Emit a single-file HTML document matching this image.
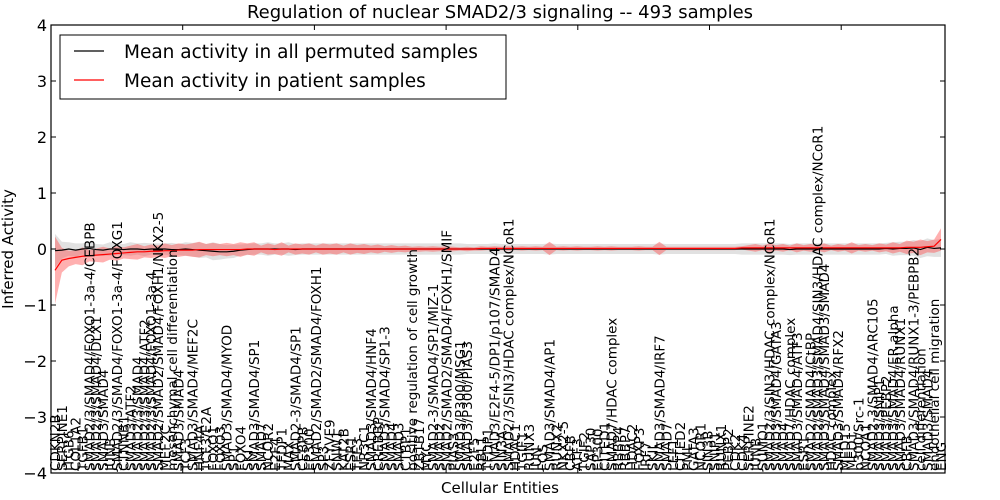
<!DOCTYPE html>
<html><head><meta charset="utf-8"><style>
body{margin:0;background:#fff;}
svg{display:block;font-family:"DejaVu Sans","Liberation Sans",sans-serif;}
</style></head><body>
<svg id="chart" width="1000" height="500" xmlns="http://www.w3.org/2000/svg">
<text x="500" y="18" font-size="18" text-anchor="middle">Regulation of nuclear SMAD2/3 signaling -- 493 samples</text>
<text x="500" y="493" font-size="15" text-anchor="middle">Cellular Entities</text>
<text transform="translate(13,249) rotate(-90)" font-size="15" text-anchor="middle">Inferred Activity</text>
<g id="plot"></g>
</svg>
<script>
const labels=[
"CDKN2B","SERPINE1","ITGB6","COL1A2","TGFB1","SMAD2/3/SMAD4/FOXO1-3a-4/CEBPB","SMAD2/3/SMAD4/DLX1","SMAD3/SMAD4","JUNB","SMAD2/3/SMAD4/FOXO1-3a-4/FOXG1",
"CTNNB1","SMAD3/ATF2","SMAD2/3/SMAD4","SMAD2/3/SMAD4/ATF2","SMAD2/3/SMAD4/FOXO1-3a-4","SMAD2/SMAD2/SMAD4/FOXH1/NKX2-5","MEF2C","mesenchymal cell differentiation","SMAD3/SMAD4","TCF3",
"SMAD3/SMAD4/MEF2C","HNF4A","TCF3/E2A","FOXO1","FOXO3","SMAD3/SMAD4/MYOD","SP1","FOXO4","SKI","SMAD3/SMAD4/SP1",
"SMAD7","NCOR2","E2F4","TFDP1","MAX","SMAD2-3/SMAD4/SP1","CEBPB","EP300","SMAD2/SMAD2/SMAD4/FOXH1","SP3",
"ZFYVE9","SNW1","KAT2B","ESR1","TFE3","NR3C1","SMAD3/SMAD4/HNF4","CREBBP","SMAD3/SMAD4/SP1-3","SMAD4",
"SMAD3","CTBP1","positive regulation of cell growth","ZBTB17","MYC","SMAD2-3/SMAD4/SP1/MIZ-1","SMAD2","SMAD2/SMAD2/SMAD4/FOXH1/SMIF","PIAS3","SMAD3/P300/MSG1",
"SMAD3/P300/PIAS3","E2F5","RBL1","TFDP1","SMAD3/E2F4-5/DP1/p107/SMAD4","SIN3A","SMAD2/3/SIN3/HDAC complex/NCoR1","HDAC1","TGIF1","RUNX3",
"JUN","FOS","SMAD3/SMAD4/AP1","RUNX2","NKX2-5","CBFB","ATF3","TGIF2","SAP30","EP300",
"CITED1","SMAD7/HDAC complex","RBBP4","RBBP7","HDAC2","FOXP3","IRF7","SKIL","SMAD3/SMAD4/IRF7","SMAD7",
"LEF1","CITED2","PML","GATA3","NCOR1","SIN3B","SNIP1","RUNX1","PEBP2","CDK2",
"CDK4","SERPINE2","JUNB","SUMO1","SMAD2/3/SIN3/HDAC complex/NCoR1","SMAD3/SMAD4/GATA3","SMAD4","SMAD7/HDAC complex","SMAD3/SMAD4/ATF3","ESR1",
"SMAD2/SMAD4/CtBP","SMAD2/SMAD3/SMAD4/SIN3/HDAC complex/NCoR1","SMAD3/SMAD4/SMAD3/SMAD4","HDAC complex","SMAD3/SMAD4/RFX2","MED15","MED1","p300/Src-1","NCOA1","SMAD2-3/SMAD4/ARC105",
"SMAD3/SNIP1","SMAD3/PEBP2","SMAD3/SMAD4/ER alpha","SMAD3/SMAD4/RUNX1","CBFB","SMAD3/SMAD4/RUNX1-3/PEBPB2","cell differentiation","SMAD3/SMAD4","endothelial cell migration","ENG"];
const redMean=[
-0.38,-0.2,-0.17,-0.15,-0.13,-0.12,-0.11,-0.1,-0.09,-0.08,
-0.07,-0.06,-0.05,-0.05,-0.04,-0.04,-0.03,-0.03,-0.02,-0.02,
-0.02,-0.01,-0.01,-0.01,-0.01,-0.01,-0.01,-0.01,0,0,
0,0,-0.01,0,0,0,0,0,0,0,
0,0,0,0,0,0,0,0,0,0,
0,0,0,0,0,0,0,0,0,0,
0,0,0.01,0.01,0.01,0.01,0.01,0.01,0.01,0.01,
0.01,0.01,0.01,0.01,0.01,0.01,0.01,0.01,0.01,0.01,
0.01,0.01,0.01,0.01,0.01,0.01,0.01,0.01,0.01,0.01,
0.01,0.01,0.01,0.01,0.01,0.01,0.01,0.01,0.01,0.01,
0.02,0.02,0.02,0.02,0.02,0.02,0.02,0.02,0.02,0.02,
0.02,0.02,0.02,0.02,0.02,0.02,0.02,0.02,0.02,0.02,
0.02,0.02,0.02,0.02,0.03,0.03,0.03,0.04,0.05,0.17];
const redBand=[
0.6,0.22,0.14,0.12,0.16,0.1,0.12,0.14,0.1,0.13,
0.1,0.12,0.14,0.1,0.12,0.1,0.13,0.1,0.12,0.1,
0.12,0.14,0.1,0.12,0.1,0.12,0.1,0.13,0.1,0.12,
0.06,0.1,0.08,0.12,0.06,0.1,0.08,0.1,0.06,0.1,
0.08,0.1,0.06,0.1,0.07,0.09,0.06,0.08,0.05,0.07,
0.05,0.06,0.04,0.05,0.04,0.05,0.04,0.05,0.04,0.03,
0.04,0.03,0.04,0.03,0.04,0.03,0.04,0.03,0.04,0.03,
0.04,0.03,0.12,0.03,0.04,0.03,0.04,0.03,0.03,0.04,
0.03,0.04,0.03,0.03,0.03,0.04,0.03,0.03,0.12,0.03,
0.03,0.03,0.03,0.03,0.03,0.03,0.03,0.03,0.03,0.03,
0.03,0.05,0.07,0.04,0.08,0.05,0.07,0.04,0.08,0.05,
0.07,0.05,0.08,0.04,0.07,0.05,0.1,0.05,0.07,0.05,
0.08,0.06,0.1,0.07,0.12,0.1,0.14,0.1,0.12,0.2];
const blackMean=[
-0.03,-0.02,0,-0.02,0,0.01,-0.01,-0.02,0,0,
-0.01,0,0,-0.01,0,0,0,-0.01,-0.01,0,
-0.01,-0.02,-0.03,-0.04,-0.05,-0.05,-0.04,-0.02,-0.01,0,
0,0,0,0,0,-0.01,0,0,0,0,
0,0,0,0,0,0,0,0,0,0,
0,0,0,0,0,0,0,0,0,0,
0,0,0,0,0,0,0,0,0,0,
0,0,0,0,0,0,0,0,0,0,
0,0,0,0,0,0,0,0,0,0,
0,0,0,0,0,0,0,0,0,0,
0,0,0,0,0,0,0,-0.01,0,0,
0,0,0,0,0,0,0,0,0,0,
0,0.01,0,0.01,0.01,0.02,-0.01,0.03,0.01,0.02];
const greyBand=[
0.3,0.15,0.12,0.12,0.1,0.12,0.1,0.1,0.12,0.1,
0.1,0.12,0.1,0.12,0.1,0.1,0.1,0.12,0.1,0.12,
0.12,0.14,0.12,0.16,0.14,0.12,0.12,0.1,0.1,0.1,
0.1,0.12,0.1,0.1,0.12,0.1,0.1,0.1,0.1,0.1,
0.1,0.1,0.1,0.1,0.1,0.1,0.1,0.1,0.1,0.1,
0.1,0.1,0.1,0.1,0.1,0.1,0.1,0.1,0.1,0.1,
0.09,0.09,0.09,0.09,0.1,0.09,0.09,0.09,0.09,0.09,
0.09,0.09,0.1,0.09,0.09,0.09,0.09,0.09,0.09,0.09,
0.09,0.09,0.09,0.09,0.09,0.09,0.09,0.09,0.1,0.09,
0.09,0.09,0.09,0.09,0.09,0.09,0.09,0.09,0.09,0.09,
0.1,0.1,0.1,0.1,0.1,0.1,0.1,0.1,0.1,0.1,
0.1,0.1,0.1,0.1,0.1,0.1,0.1,0.1,0.1,0.1,
0.1,0.1,0.12,0.12,0.12,0.14,0.15,0.16,0.15,0.16];
const yTicks=[-4,-3,-2,-1,0,1,2,3,4];
const NS="http://www.w3.org/2000/svg";
const L=51,R=945,T=25,B=473;
const n=labels.length;
function xs(i){return 55+i*(941-55)/(n-1);}
function ys(v){return B-(v+4)*(B-T)/8;}
const g=document.getElementById('plot');
function mk(tag,attrs,parent){const e=document.createElementNS(NS,tag);for(const k in attrs)e.setAttribute(k,attrs[k]);(parent||g).appendChild(e);return e;}
function band(mean,hw){let up=[],dn=[];for(let i=0;i<n;i++){up.push(xs(i)+','+ys(mean[i]+hw[i]));dn.unshift(xs(i)+','+ys(mean[i]-hw[i]));}return up.concat(dn).join(' ');}
function line(mean){let p=[];for(let i=0;i<n;i++)p.push(xs(i)+','+ys(mean[i]));return p.join(' ');}
const gb=mk('polygon',{points:band(blackMean,greyBand),fill:'#c8c8c8','fill-opacity':'0.55',stroke:'none'});


const rb=mk('polygon',{points:band(redMean,redBand),fill:'#ff5050','fill-opacity':'0.45',stroke:'none'});


const bl=mk('polyline',{points:line(blackMean),fill:'none',stroke:'#000','stroke-width':'1.2'});


const rl=mk('polyline',{points:line(redMean),fill:'none',stroke:'#ff0000','stroke-width':'1.2'});


for(let i=0;i<n;i++){
  const t=mk('text',{transform:`translate(${xs(i)+5},${B-2}) rotate(-90)`,'font-size':'13.5'});
  t.textContent=labels[i];
  
  
}
for(const v of yTicks){
  const y=ys(v);
  mk('line',{x1:L,x2:L+5,y1:y,y2:y,stroke:'#000'});
  mk('line',{x1:R,x2:R-5,y1:y,y2:y,stroke:'#000'});
  const t=mk('text',{x:L-4,y:y+6,'font-size':'16','text-anchor':'end'});
  t.textContent=(v<0?'\u2212'+(-v):String(v));
  
  
}
for(let k=0;k<7;k++){const x=L+131.7*k;mk('line',{x1:x,x2:x,y1:T,y2:T+5,stroke:'#000'});mk('line',{x1:x,x2:x,y1:B,y2:B-5,stroke:'#000'});}
const fr=mk('rect',{x:L,y:T,width:R-L,height:B-T,fill:'none',stroke:'#000','stroke-width':'1.2'});


const lg=mk('g',{});


mk('rect',{x:60,y:35,width:446,height:64,fill:'#fff',stroke:'#000'},lg);
mk('line',{x1:74,x2:104,y1:51,y2:51,stroke:'#000','stroke-width':'1.2'},lg);
mk('line',{x1:74,x2:104,y1:80,y2:80,stroke:'#ff0000','stroke-width':'1.2'},lg);
const l1=mk('text',{x:124,y:58,'font-size':'18.5'},lg);l1.textContent='Mean activity in all permuted samples';


const l2=mk('text',{x:124,y:87,'font-size':'18.5'},lg);l2.textContent='Mean activity in patient samples';


</script>
</body></html>
